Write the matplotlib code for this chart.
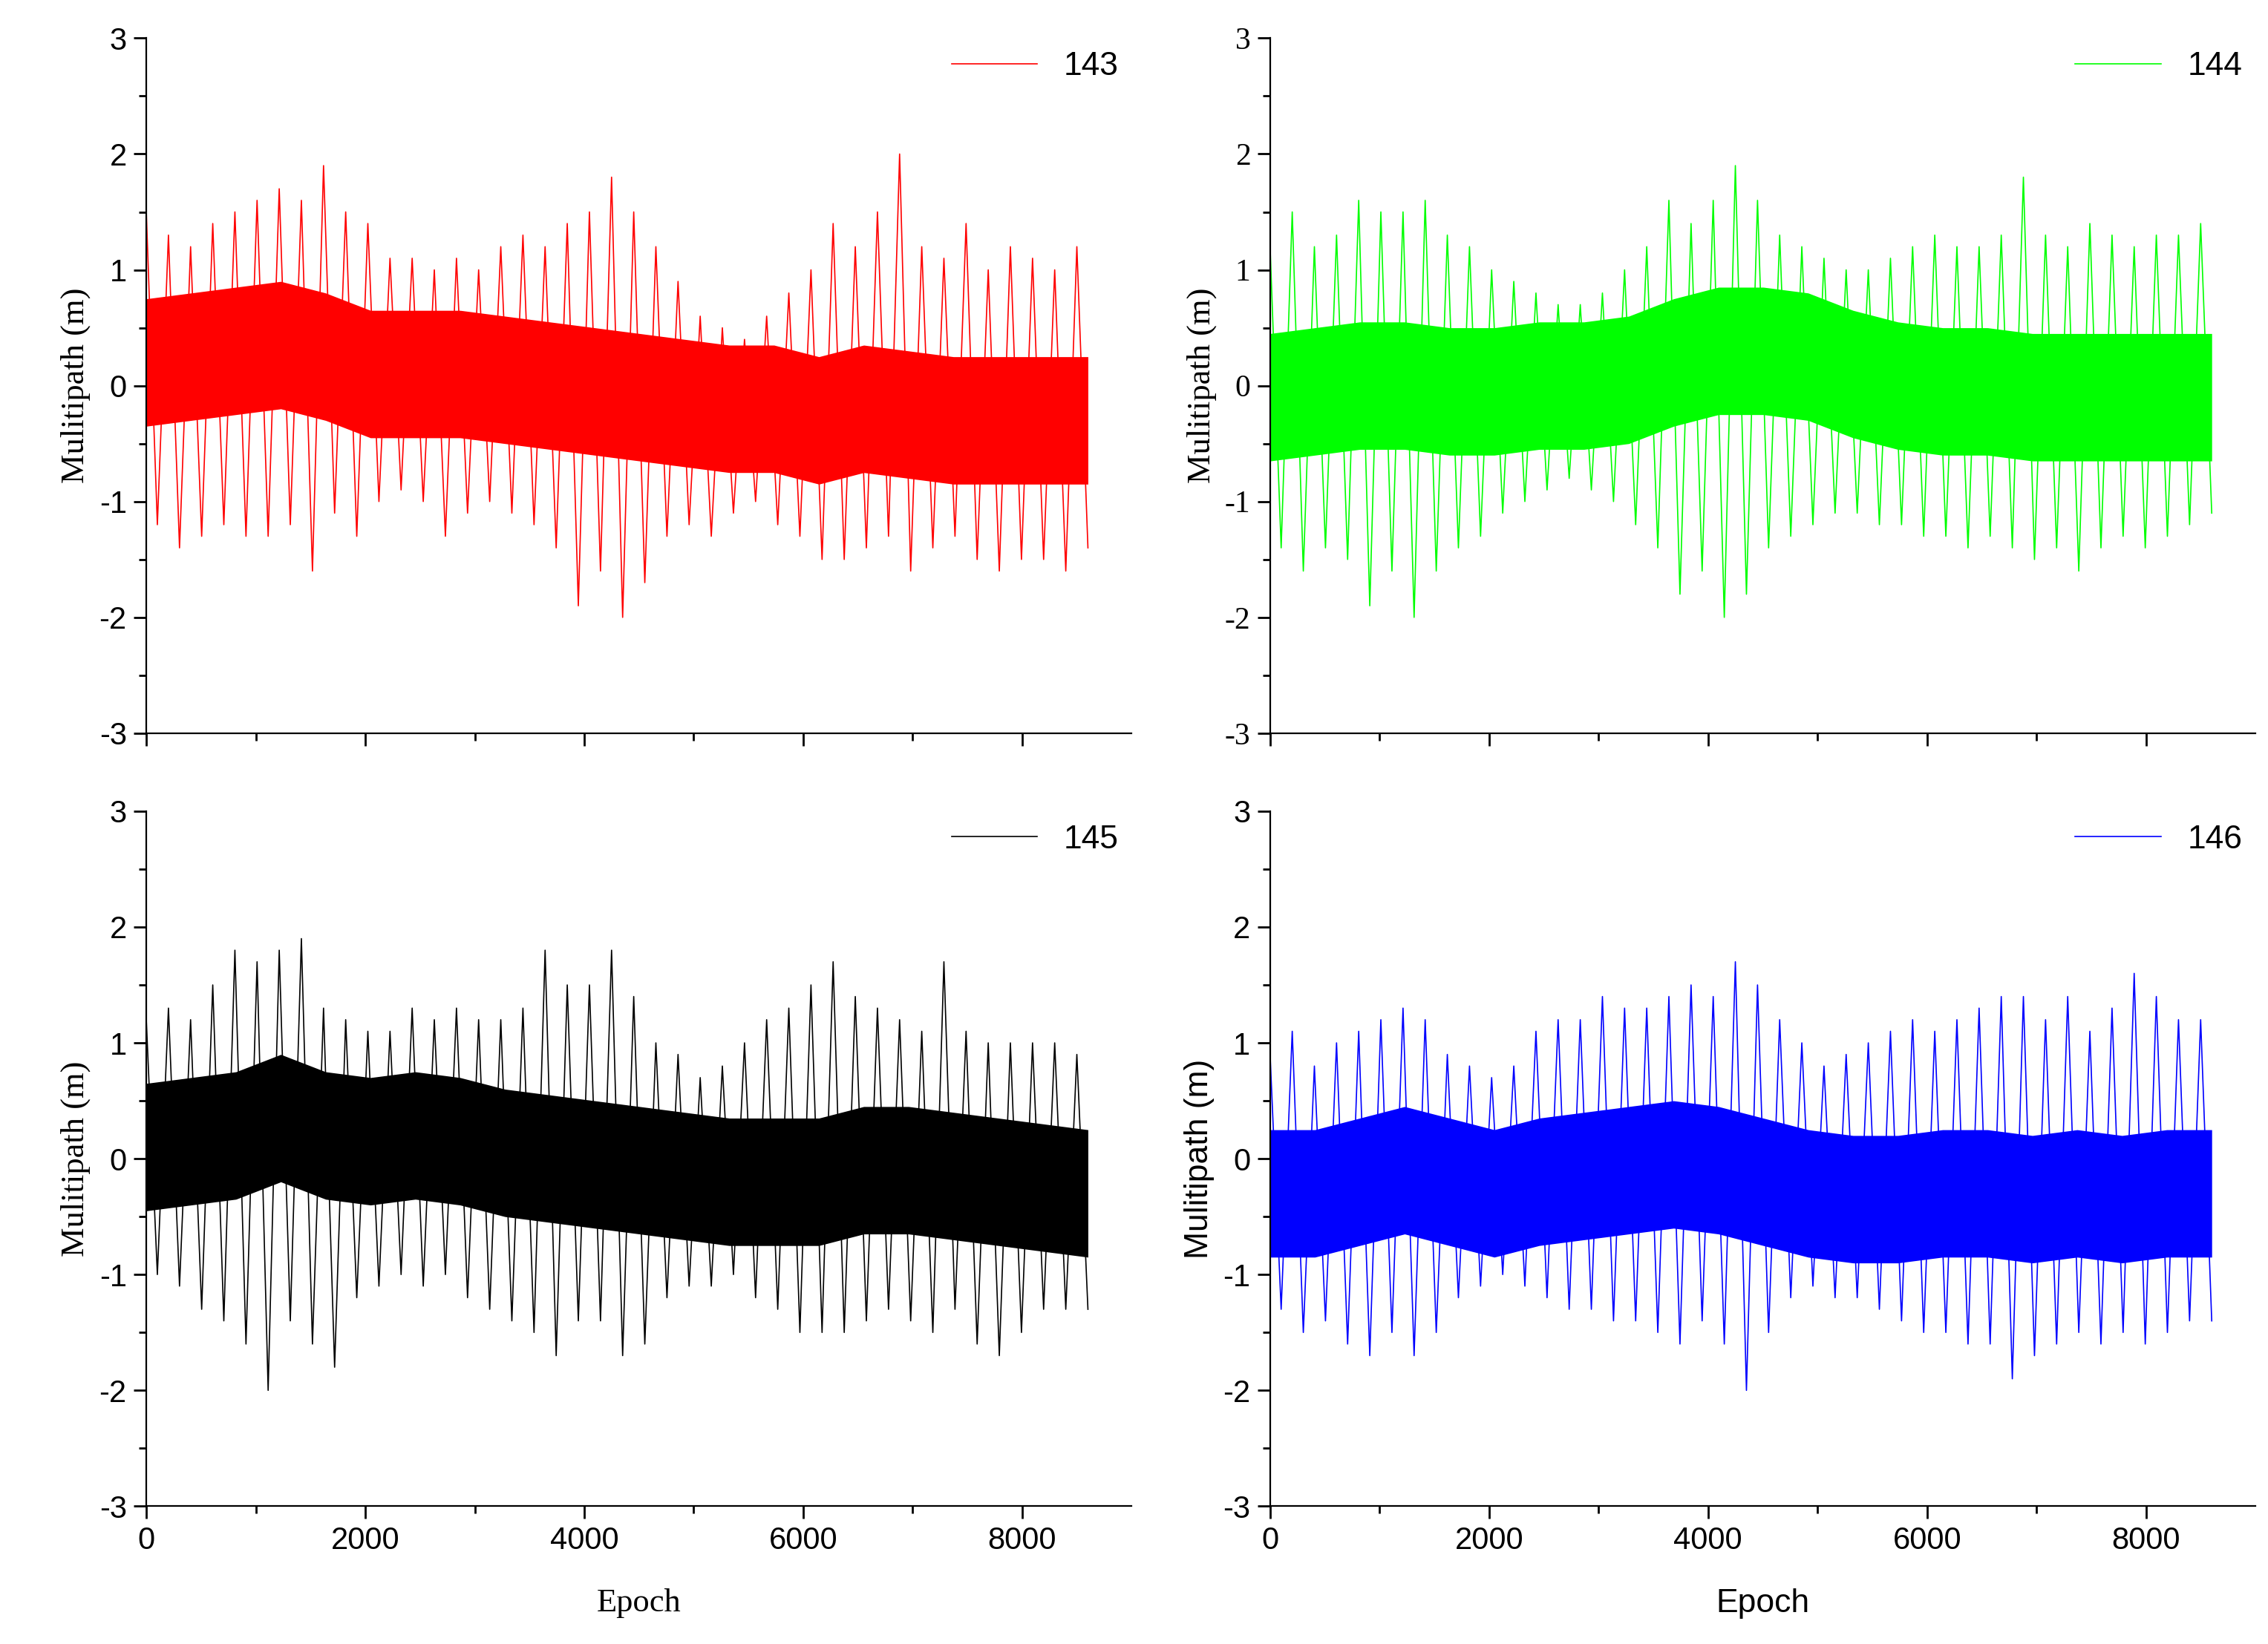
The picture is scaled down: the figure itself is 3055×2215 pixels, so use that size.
import matplotlib.pyplot as plt
import numpy as np

plt.rcParams['axes.unicode_minus'] = False

# extreme values seen in each 200-epoch bin, 0..8600 epochs
last_epoch = 8600
hi_143 = [1.5,1.3,1.2,1.4,1.5,1.6,1.7,1.6,1.9,1.5,1.4,1.1,1.1,1.0,1.1,1.0,1.2,1.3,1.2,1.4,1.5,1.8,1.5,1.2,0.9,0.6,0.5,0.4,0.6,0.8,1.0,1.4,1.2,1.5,2.0,1.2,1.1,1.4,1.0,1.2,1.1,1.0,1.2]
lo_143 = [-1.2,-1.4,-1.3,-1.2,-1.3,-1.3,-1.2,-1.6,-1.1,-1.3,-1.0,-0.9,-1.0,-1.3,-1.1,-1.0,-1.1,-1.2,-1.4,-1.9,-1.6,-2.0,-1.7,-1.3,-1.2,-1.3,-1.1,-1.0,-1.2,-1.3,-1.5,-1.5,-1.4,-1.3,-1.6,-1.4,-1.3,-1.5,-1.6,-1.5,-1.5,-1.6,-1.4]
hi_144 = [1.2,1.5,1.2,1.3,1.6,1.5,1.5,1.6,1.3,1.2,1.0,0.9,0.8,0.7,0.7,0.8,1.0,1.2,1.6,1.4,1.6,1.9,1.6,1.3,1.2,1.1,1.0,1.0,1.1,1.2,1.3,1.2,1.2,1.3,1.8,1.3,1.2,1.4,1.3,1.2,1.3,1.3,1.4]
lo_144 = [-1.4,-1.6,-1.4,-1.5,-1.9,-1.6,-2.0,-1.6,-1.4,-1.3,-1.1,-1.0,-0.9,-0.8,-0.9,-1.0,-1.2,-1.4,-1.8,-1.6,-2.0,-1.8,-1.4,-1.3,-1.2,-1.1,-1.1,-1.2,-1.2,-1.3,-1.3,-1.4,-1.3,-1.4,-1.5,-1.4,-1.6,-1.4,-1.3,-1.4,-1.3,-1.2,-1.1]
hi_145 = [1.2,1.3,1.2,1.5,1.8,1.7,1.8,1.9,1.3,1.2,1.1,1.1,1.3,1.2,1.3,1.2,1.2,1.3,1.8,1.5,1.5,1.8,1.4,1.0,0.9,0.7,0.8,1.0,1.2,1.3,1.5,1.7,1.4,1.3,1.2,1.1,1.7,1.1,1.0,1.0,1.0,1.0,0.9]
lo_145 = [-1.0,-1.1,-1.3,-1.4,-1.6,-2.0,-1.4,-1.6,-1.8,-1.2,-1.1,-1.0,-1.1,-1.0,-1.2,-1.3,-1.4,-1.5,-1.7,-1.4,-1.4,-1.7,-1.6,-1.2,-1.1,-1.1,-1.0,-1.2,-1.3,-1.5,-1.5,-1.5,-1.4,-1.3,-1.4,-1.5,-1.3,-1.6,-1.7,-1.5,-1.3,-1.3,-1.3]
hi_146 = [0.9,1.1,0.8,1.0,1.1,1.2,1.3,1.2,0.9,0.8,0.7,0.8,1.1,1.2,1.2,1.4,1.3,1.3,1.4,1.5,1.4,1.7,1.5,1.2,1.0,0.8,0.9,1.0,1.1,1.2,1.1,1.2,1.3,1.4,1.4,1.2,1.4,1.1,1.3,1.6,1.4,1.2,1.2]
lo_146 = [-1.3,-1.5,-1.4,-1.6,-1.7,-1.5,-1.7,-1.5,-1.2,-1.1,-1.0,-1.1,-1.2,-1.3,-1.3,-1.4,-1.4,-1.5,-1.6,-1.4,-1.6,-2.0,-1.5,-1.2,-1.1,-1.2,-1.2,-1.3,-1.4,-1.5,-1.5,-1.6,-1.6,-1.9,-1.7,-1.6,-1.5,-1.6,-1.5,-1.6,-1.5,-1.4,-1.4]

# centre of the dense core of the signal, evenly spaced over 0..8600
core_spread = 0.55
mean_143 = [0.2,0.25,0.3,0.35,0.25,0.1,0.1,0.1,0.05,0.0,-0.05,-0.1,-0.15,-0.2,-0.2,-0.3,-0.2,-0.25,-0.3,-0.3,-0.3,-0.3]
mean_144 = [-0.1,-0.05,0,0,-0.05,-0.05,0,0,0.05,0.2,0.3,0.3,0.25,0.1,0,-0.05,-0.05,-0.1,-0.1,-0.1,-0.1,-0.1]
mean_145 = [0.1,0.15,0.2,0.35,0.2,0.15,0.2,0.15,0.05,0,-0.05,-0.1,-0.15,-0.2,-0.2,-0.2,-0.1,-0.1,-0.15,-0.2,-0.25,-0.3]
mean_146 = [-0.3,-0.3,-0.2,-0.1,-0.2,-0.3,-0.2,-0.15,-0.1,-0.05,-0.1,-0.2,-0.3,-0.35,-0.35,-0.3,-0.3,-0.35,-0.3,-0.35,-0.3,-0.3]

labels = ['143', '144', '145', '146']
colors = ['#ff0000', '#00ff00', '#000000', '#0000ff']
his = [hi_143, hi_144, hi_145, hi_146]
los = [lo_143, lo_144, lo_145, lo_146]
means = [mean_143, mean_144, mean_145, mean_146]

SANS = 'Liberation Sans'
SERIF = 'Liberation Serif'

fig = plt.figure(figsize=(15.275, 11.075), dpi=200)
pos = [(0.0645, 0.554), (0.560, 0.554), (0.0645, 0.0838), (0.560, 0.0838)]

for i in range(4):
    ax = fig.add_axes([pos[i][0], pos[i][1], 0.4345, 0.4228])
    c = colors[i]
    hi = np.array(his[i]); lo = np.array(los[i])
    e = np.linspace(0, last_epoch, 2 * len(hi))
    # zigzag between bin maxima and minima
    zy = np.ravel(np.column_stack([hi, lo]))
    ax.plot(e, zy, color=c, lw=0.6, label=labels[i])
    ce = np.linspace(0, last_epoch, len(means[i]))
    m = np.array(means[i])
    ax.fill_between(ce, m - core_spread, m + core_spread, color=c, lw=0)

    ax.set_xlim(0, 9000)
    ax.set_ylim(-3, 3)
    ax.set_xticks([0, 2000, 4000, 6000, 8000])
    ax.set_xticks(np.arange(1000, 9000, 2000), minor=True)
    ax.set_yticks(range(-3, 4))
    ax.set_yticks(np.arange(-2.5, 3, 1), minor=True)
    for s in ['top', 'right']:
        ax.spines[s].set_visible(False)
    ax.tick_params(axis='both', which='major', length=6, width=1, labelsize=15)
    ax.tick_params(axis='both', which='minor', length=3.5, width=1)
    ytick_font = SERIF if i == 1 else SANS
    for t in ax.get_yticklabels():
        t.set_fontfamily(ytick_font)
    for t in ax.get_xticklabels():
        t.set_fontfamily(SANS)
    if i < 2:
        ax.set_xticklabels([])
    else:
        ax.set_xlabel('Epoch', fontsize=16, family=SERIF if i == 2 else SANS, labelpad=16)
    ax.set_ylabel('Mulitipath (m)', fontsize=16, family=SERIF if i != 3 else SANS)
    ax.legend(loc='upper right', frameon=False, prop={'family': SANS, 'size': 16},
              handlelength=2.6, borderaxespad=0.0)

fig.savefig('out.png', dpi=200)
